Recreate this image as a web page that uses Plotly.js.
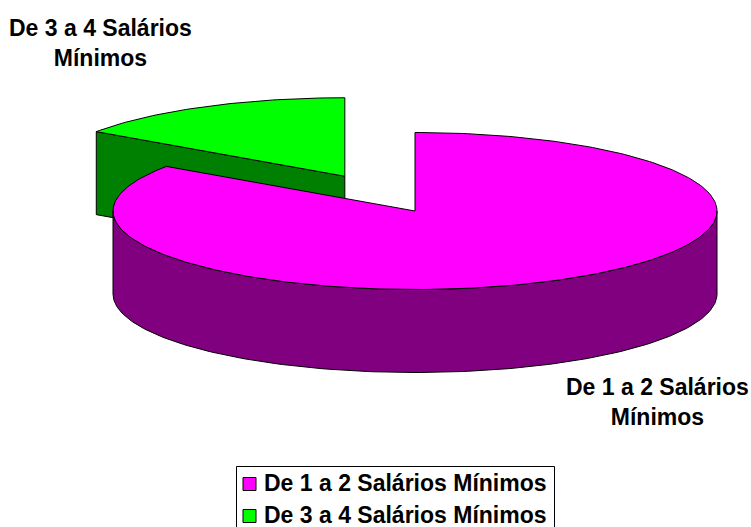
<!DOCTYPE html>
<html><head><meta charset="utf-8">
<script src="https://cdn.plot.ly/plotly-3.0.1.min.js"></script>
<style>html,body{margin:0;padding:0;background:#fff;overflow:hidden}</style>
</head><body><div id="chart" style="width:751px;height:527px"></div>
<script>
const categories = ["De 1 a 2 Salários Mínimos", "De 3 a 4 Salários Mínimos"];
const values = [11, 2];
const topColors = ["#ff00ff", "#00ff00"];
const sideColors = ["#800080", "#008000"];
const explode = [0, 0.5];
const W = 751, H = 527;
const cx = 415, cy = 211, rx = 302, ry = 78.5, depthPx = 83;
const depth = depthPx / ry;
const fontFam = "Liberation Sans, Arial, sans-serif";
const fs = 23;

const total = values.reduce((a, b) => a + b, 0);
const pt = t => [Math.sin(t), Math.cos(t)];
const px2x = p => (p - cx) / rx;
const py2y = p => (cy - p) / ry;

function arc(a, b) {
  const n = Math.max(2, Math.ceil(Math.abs(b - a) / (Math.PI / 180)));
  const out = [];
  for (let i = 0; i <= n; i++) out.push(pt(a + (b - a) * i / n));
  return out;
}
function poly(points, color, name) {
  return {
    type: "scatter", mode: "lines", x: points.map(p => p[0]), y: points.map(p => p[1]),
    fill: "toself", fillcolor: color, line: {color: "#000", width: 1},
    hoverinfo: "skip", showlegend: false, name: name
  };
}
const a0 = 0, a1 = 2 * Math.PI * values[0] / total, a2 = 2 * Math.PI;
const mid = (a1 + a2) / 2;
const ox = explode[1] * Math.sin(mid), oy = explode[1] * Math.cos(mid);
const shift = (pts, dx, dy) => pts.map(p => [p[0] + dx, p[1] + dy]);

const gEdge = pt(a1);
const gWall = shift([gEdge, [0, 0], [0, -depth], [gEdge[0], gEdge[1] - depth], gEdge], ox, oy);
const gTop = shift([[0, 0], ...arc(a1, a2), [0, 0]], ox, oy);
const front = arc(Math.PI / 2, 3 * Math.PI / 2);
const pWall = [...front, ...front.slice().reverse().map(p => [p[0], p[1] - depth]), front[0]];
const pTop = [[0, 0], ...arc(a0, a1), [0, 0]];

const traces = [
  poly(gWall, sideColors[1], categories[1]),
  poly(gTop, topColors[1], categories[1]),
  poly(pWall, sideColors[0], categories[0]),
  poly(pTop, topColors[0], categories[0]),
  {
    type: "scatter", mode: "markers",
    x: [px2x(249.5), px2x(249.5)], y: [py2y(484), py2y(516)],
    marker: {symbol: "square", size: 13, color: topColors, line: {color: "#000", width: 1}},
    hoverinfo: "skip", showlegend: false, cliponaxis: false
  },
  {
    type: "scatter", mode: "text",
    x: [px2x(264), px2x(264)], y: [py2y(485), py2y(517)],
    text: categories, textposition: "middle right",
    textfont: {family: fontFam, size: fs, color: "#000", weight: 700},
    hoverinfo: "skip", showlegend: false, cliponaxis: false
  }
];
const label = (text, x, y) => ({
  text, x: x / W, y: 1 - y / H, xref: "paper", yref: "paper", showarrow: false,
  xanchor: "center", yanchor: "middle", align: "center",
  font: {family: fontFam, size: fs, color: "#000", weight: 700}
});
const layout = {
  width: W, height: H, margin: {l: 0, r: 0, t: 0, b: 0},
  paper_bgcolor: "#fff", plot_bgcolor: "#fff", showlegend: false,
  xaxis: {range: [px2x(0), px2x(W)], visible: false, fixedrange: true},
  yaxis: {range: [py2y(H), py2y(0)], visible: false, fixedrange: true},
  shapes: [{type: "rect", xref: "paper", yref: "paper", x0: 236.5 / W, x1: 554.5 / W,
            y0: 1 - 531 / H, y1: 1 - 466.5 / H, line: {color: "#000", width: 1}, fillcolor: "#fff", layer: "below"}],
  annotations: [
    label("De 3 a 4 Salários<br>Mínimos", 100.5, 43),
    label("De 1 a 2 Salários<br>Mínimos", 657, 401.5)
  ]
};
Plotly.newPlot("chart", traces, layout, {displayModeBar: false, staticPlot: true});
</script></body></html>
